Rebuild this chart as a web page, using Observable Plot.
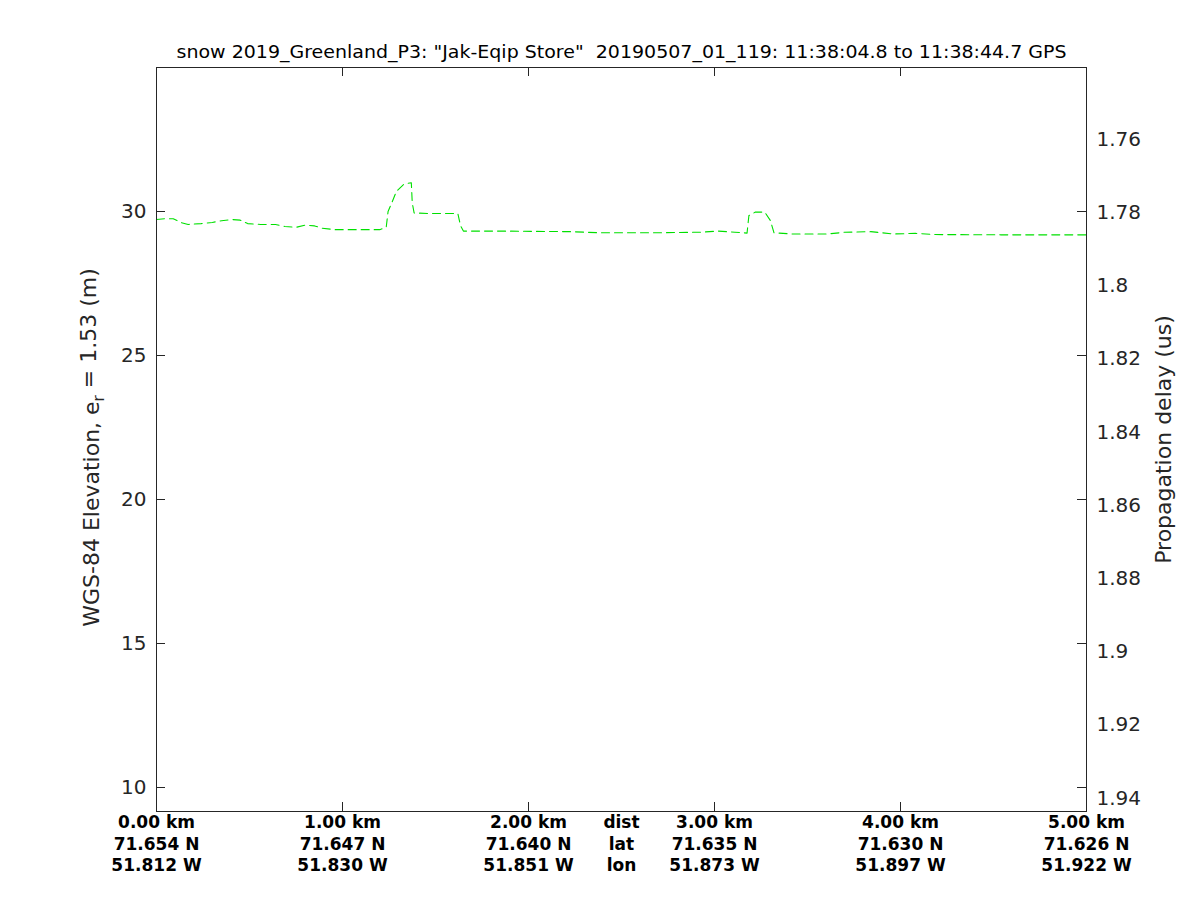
<!DOCTYPE html>
<html><head><meta charset="utf-8">
<script src="https://cdn.jsdelivr.net/npm/d3@7"></script>
<script src="https://cdn.jsdelivr.net/npm/@observablehq/plot@0.6"></script>
<style>
body{margin:0;background:#fff}
svg text{white-space:pre}
</style>
</head><body><div id="chart"></div>
<script>
// Along-track distance (km) and WGS-84 surface elevation (m)
const distKm = [0.00,0.05,0.09,0.13,0.17,0.24,0.30,0.35,0.41,0.45,0.49,0.56,0.64,0.69,0.75,0.80,0.85,0.89,0.96,1.10,1.20,1.235,1.245,1.265,1.29,1.33,1.37,1.375,1.385,1.47,1.62,1.635,1.65,1.85,2.23,2.39,2.66,2.92,3.02,3.11,3.175,3.185,3.22,3.27,3.30,3.32,3.42,3.61,3.70,3.84,3.96,4.08,4.18,4.54,5.00];
const elevation = [29.72,29.75,29.75,29.62,29.55,29.58,29.62,29.68,29.72,29.70,29.58,29.55,29.55,29.48,29.45,29.53,29.50,29.42,29.37,29.37,29.37,29.45,30.00,30.30,30.70,30.95,31.00,30.30,29.95,29.93,29.93,29.50,29.32,29.32,29.30,29.26,29.26,29.28,29.32,29.28,29.25,29.86,29.98,29.98,29.69,29.26,29.22,29.22,29.28,29.30,29.22,29.24,29.20,29.19,29.19];

// Axis ticks and labels
const xLabelTicks = [0,1,2,2.5,3,4,5];
const xTickDist = ["0.00 km","1.00 km","2.00 km","dist","3.00 km","4.00 km","5.00 km"];
const xTickLat  = ["71.654 N","71.647 N","71.640 N","lat","71.635 N","71.630 N","71.626 N"];
const xTickLon  = ["51.812 W","51.830 W","51.851 W","lon","51.873 W","51.897 W","51.922 W"];
const xMarkTicks = [1,2,3,4];
const yTicks = [10,15,20,25,30];
const delayTicks = [1.76,1.78,1.80,1.82,1.84,1.86,1.88,1.90,1.92,1.94];

const titleText = 'snow 2019_Greenland_P3: "Jak-Eqip Store"  20190507_01_119: 11:38:04.8 to 11:38:44.7 GPS';
const yLabel = "WGS-84 Elevation, e_r = 1.53 (m)";
const y2Label = "Propagation delay (us)";

// delay (us) -> elevation (m) relation of the twin axis
const delayRef = 1.78, elevRef = 29.965, mPerUs = 127.1;
const delayToElev = d => elevRef - (d - delayRef) * mPerUs;

const W = 1200, H = 900, mL = 156, mR = 114, mT = 67, mB = 89;
const innerW = W - mL - mR, innerH = H - mT - mB, tickLen = 9;
const axisColor = "#262626";

const data = distKm.map((d, i) => ({d, e: elevation[i]}));
const delayMap = new Map(delayTicks.map(d => [delayToElev(d), String(+d.toFixed(2))]));

const chart = Plot.plot({
  width: W, height: H,
  marginLeft: mL, marginRight: mR, marginTop: mT, marginBottom: mB,
  style: {fontFamily: "DejaVu Sans", background: "white", color: axisColor, overflow: "visible"},
  x: {domain: [0, 5]},
  y: {domain: [9.167, 35]},
  marks: [
    Plot.line(data, {x: "d", y: "e", stroke: "#00e000", strokeWidth: 1.1, strokeDasharray: "8,5"}),
    Plot.frame({stroke: axisColor}),
    Plot.tickX(xMarkTicks, {x: d => d, insetTop: innerH - tickLen, stroke: axisColor}),
    Plot.tickX(xMarkTicks, {x: d => d, insetBottom: innerH - tickLen, stroke: axisColor}),
    Plot.tickY(yTicks, {y: d => d, insetRight: innerW - tickLen, stroke: axisColor}),
    Plot.tickY(yTicks, {y: d => d, insetLeft: innerW - tickLen, stroke: axisColor}),
    Plot.axisX(xLabelTicks, {
      anchor: "bottom", tickSize: 0, tickPadding: 2, label: null,
      tickFormat: d => { const i = xLabelTicks.indexOf(d); return `${xTickDist[i]}\n${xTickLat[i]}\n${xTickLon[i]}`; },
      fontSize: 17, fontWeight: "bold", lineHeight: 1.24, fill: "black"
    }),
    Plot.axisY(yTicks, {anchor: "left", tickSize: 0, tickPadding: 10, fontSize: 20, label: null}),
    Plot.axisY(delayTicks.map(delayToElev), {
      anchor: "right", tickSize: 0, tickPadding: 10, fontSize: 20, label: null,
      tickFormat: d => delayMap.get(d)
    }),
    Plot.text([titleText], {frameAnchor: "top", dy: -15, fontSize: 18, lineAnchor: "middle", fill: "black", text: d => d}),
    Plot.text([yLabel], {frameAnchor: "left", dx: -65, dy: 8, rotate: -90, fontSize: 22, lineAnchor: "middle", textAnchor: "middle", fill: axisColor, text: d => d}),
    Plot.text([y2Label], {frameAnchor: "right", dx: 77, rotate: -90, fontSize: 22, lineAnchor: "middle", textAnchor: "middle", fill: axisColor, text: d => d})
  ]
});
document.getElementById("chart").appendChild(chart);

const texts = d3.select(chart).selectAll("text");
// title stretched to the reference width
texts.filter(function() { return this.textContent === titleText; })
  .attr("textLength", 890).attr("lengthAdjust", "spacingAndGlyphs");

// subscript "r" in the elevation label
texts.filter(function() { return this.textContent === yLabel; })
  .each(function() {
    const t = d3.select(this);
    const [pre, post] = yLabel.split("e_r");
    t.text(null);
    t.append("tspan").text(pre + "e");
    t.append("tspan").attr("dy", "0.35em").attr("font-size", "15").text("r");
    t.append("tspan").attr("dy", "-0.35em").text(post);
  });
</script>
</body></html>
